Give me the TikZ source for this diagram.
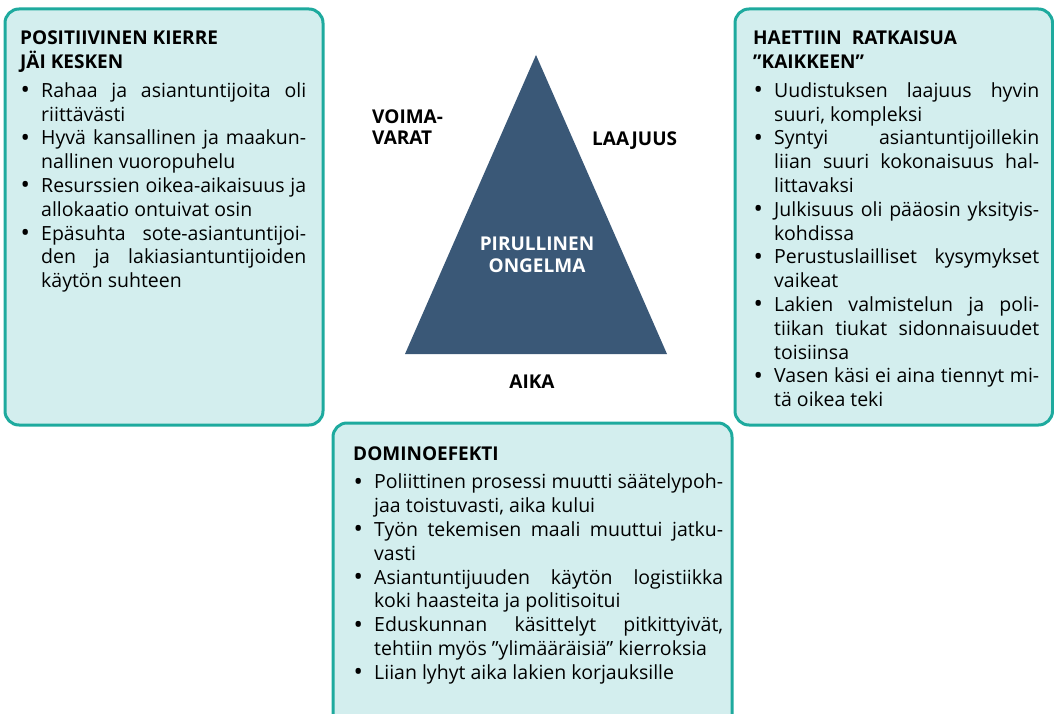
\documentclass[tikz,border=0pt]{standalone}
\usepackage{fontspec}
\setmainfont{Open Sans}
\definecolor{boxteal}{RGB}{30,170,158}
\definecolor{boxfill}{RGB}{211,238,238}
\definecolor{problemblue}{RGB}{58,88,119}
\usetikzlibrary{positioning}

\newcommand{\nohyph}{\hyphenpenalty=10000\relax\exhyphenpenalty=10000\relax}
\newcommand{\bulletitem}[1]{\par\noindent\hangindent=21pt\relax\hangafter=1\relax\makebox[21pt][l]{\hspace{0.5pt}{\fontsize{25}{0}\selectfont\raisebox{-1.5pt}{\textbullet}}}#1}
\newcommand{\boxhead}[1]{{\bfseries\fontsize{19}{23.5}\selectfont #1\par}\vspace{5pt}}

\begin{document}
\begin{tikzpicture}[x=1pt, y=-1pt,
    infobox/.style={draw=boxteal, fill=boxfill, line width=3pt, rounded corners=14pt},
    boxtext/.style={anchor=base west, inner sep=0pt, text width=#1, align=justify,
        font=\fontsize{19.5}{23.8}\selectfont\nohyph},
    sidelabel/.style={inner sep=0pt, align=left, font=\bfseries\fontsize{19}{21.5}\selectfont}]
    \useasboundingbox (0,0) rectangle (1054,714);

    % three boxes
    \draw[infobox] (5,9) rectangle (323,425);
    \draw[infobox] (735,9) rectangle (1052.5,425);
    \draw[infobox] (333,423) rectangle (732,740);

    % triangle
    \coordinate (apex) at (536,55);
    \coordinate (baseL) at (405,354);
    \coordinate (baseR) at (667,354);
    \fill[problemblue] (apex) -- (baseR) -- (baseL) -- cycle;
    \node[sidelabel, align=center, text=white, anchor=base] (problem) at (537,272) {PIRULLINEN\\ONGELMA};
    \node[sidelabel, anchor=base west] (resources) at (372,145) {VOIMA-\\VARAT};
    \node[sidelabel, anchor=base west] (scope) at (592,146) {LAAJUUS};
    \node[sidelabel, anchor=base] (time) at (532,388) {AIKA};

    % box texts
    \node[boxtext=286pt] (positive) at (20,45) {%
        \boxhead{POSITIIVINEN KIERRE\\JÄI KESKEN}
        \bulletitem{Rahaa ja asiantuntijoita oli\linebreak riittävästi}
        \bulletitem{Hyvä kansallinen ja maakun-\linebreak nallinen vuoropuhelu}
        \bulletitem{Resurssien oikea-aikaisuus ja\linebreak allokaatio ontuivat osin}
        \bulletitem{Epäsuhta sote-asiantuntijoi-\linebreak den ja lakiasiantuntijoiden\linebreak käytön suhteen}\par};
    \node[boxtext=286pt] (solution) at (753,45) {%
        \boxhead{HAETTIIN\hspace{5pt} RATKAISUA\\”KAIKKEEN”}
        \bulletitem{Uudistuksen laajuus hyvin\linebreak suuri, kompleksi}
        \bulletitem{Syntyi asiantuntijoillekin\linebreak liian suuri kokonaisuus hal-\linebreak littavaksi}
        \bulletitem{Julkisuus oli pääosin yksityis-\linebreak kohdissa}
        \bulletitem{Perustuslailliset kysymykset\linebreak vaikeat}
        \bulletitem{Lakien valmistelun ja poli-\linebreak tiikan tiukat sidonnaisuudet\linebreak toisiinsa}
        \bulletitem{Vasen käsi ei aina tiennyt mi-\linebreak tä oikea teki}\par};
    \node[boxtext=370pt] (domino) at (353,460) {%
        \boxhead{DOMINOEFEKTI}
        \bulletitem{Poliittinen prosessi muutti säätelypoh-\linebreak jaa toistuvasti, aika kului}
        \bulletitem{Työn tekemisen maali muuttui jatku-\linebreak vasti}
        \bulletitem{Asiantuntijuuden käytön logistiikka\linebreak koki haasteita ja politisoitui}
        \bulletitem{Eduskunnan käsittelyt pitkittyivät,\linebreak tehtiin myös ”ylimääräisiä” kierroksia}
        \bulletitem{Liian lyhyt aika lakien korjauksille}\par};
\end{tikzpicture}
\end{document}
